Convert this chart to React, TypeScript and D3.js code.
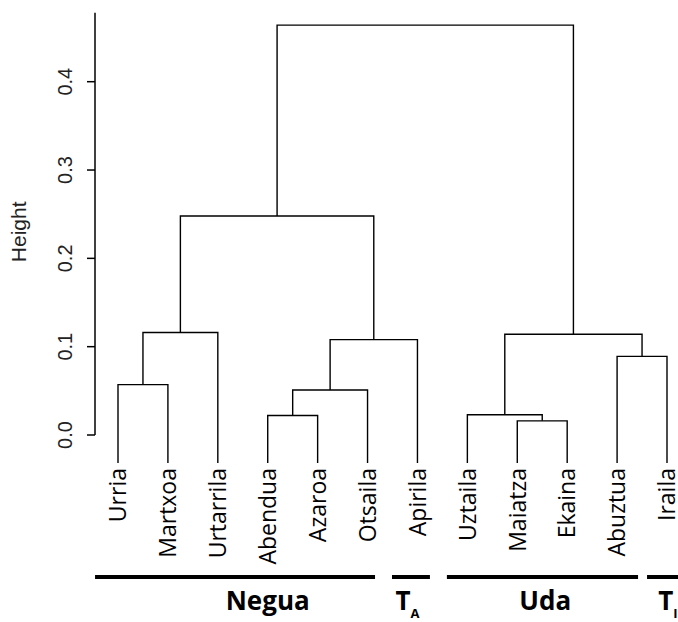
import React from 'react';
import * as d3 from 'd3';

const width = 678;
const height = 622;

// leaf order, left to right
const leaves = ['Urria', 'Martxoa', 'Urtarrila', 'Abendua', 'Azaroa', 'Otsaila',
  'Apirila', 'Uztaila', 'Maiatza', 'Ekaina', 'Abuztua', 'Iraila'];

// hclust style merges: negative = leaf (1-based), positive = earlier merge
const mergeLeft = [-9, -4, -8, 2, -1, -11, 4, 3, 5, 9, 10];
const mergeRight = [-10, -5, 1, -6, -2, -12, -7, 6, -3, 7, 8];
const mergeHeight = [0.016, 0.022, 0.023, 0.051, 0.057, 0.089, 0.108, 0.114, 0.116, 0.248, 0.464];

const yTicks = [0, 0.1, 0.2, 0.3, 0.4];

// season groups under the leaves, spans in leaf-index units
const groupNames = ['Negua', 'T', 'Uda', 'T'];
const groupSubs = ['', 'A', '', 'I'];
const groupStart = [-0.46, 5.49, 6.59, 10.6];
const groupEnd = [5.15, 6.25, 10.42, 11.8];
const groupLabelAt = [3.0, 5.8, 8.56, 11.02];

const x = d3.scaleLinear().domain([0, leaves.length - 1]).range([118, 667]);
const y = d3.scaleLinear().domain([0, 0.4]).range([435, 81.7]);
const leafBottom = y(0) + 28;

type Node = { x: number; y: number };

function buildTree() {
  const nodes: Node[] = [];
  const paths: string[] = [];
  const get = (id: number): Node =>
    id < 0 ? { x: x(-id - 1), y: leafBottom } : nodes[id - 1];
  mergeLeft.forEach((l, i) => {
    const a = get(l);
    const b = get(mergeRight[i]);
    const hy = y(mergeHeight[i]);
    const p = d3.path();
    p.moveTo(a.x, a.y);
    p.lineTo(a.x, hy);
    p.lineTo(b.x, hy);
    p.lineTo(b.x, b.y);
    paths.push(p.toString());
    nodes.push({ x: (a.x + b.x) / 2, y: hy });
  });
  return paths;
}

export default function App() {
  const paths = buildTree();
  const axisTop = y(0.478);
  return (
    <svg width={width} height={height} style={{ position: 'absolute', left: 0, top: 0, background: '#fff' }}>
      {/* y axis */}
      <g fontFamily="'Liberation Sans', Arial, sans-serif" fontSize={20} fill="#222">
        <line x1={95} x2={95} y1={axisTop} y2={y(0)} stroke="#000" strokeWidth={1.5} />
        {yTicks.map((t) => (
          <g key={t}>
            <line x1={87} x2={95} y1={y(t)} y2={y(t)} stroke="#000" strokeWidth={1.5} />
            <text transform={`translate(72,${y(t)}) rotate(-90)`} textAnchor="middle">
              {t.toFixed(1)}
            </text>
          </g>
        ))}
        <text transform={`translate(26,${y(0.23)}) rotate(-90)`} textAnchor="middle" fontSize={21}>
          Height
        </text>
      </g>

      {/* dendrogram */}
      <g fill="none" stroke="#000" strokeWidth={1.4}>
        {paths.map((d, i) => <path key={i} d={d} />)}
      </g>

      {/* leaf labels */}
      <g fontFamily="'Open Sans', 'Noto Sans', sans-serif" fontSize={23} fill="#000">
        {leaves.map((name, i) => (
          <text key={name} transform={`translate(${x(i)},${leafBottom + 5}) rotate(-90)`}
            textAnchor="end" dy="0.36em">
            {name}
          </text>
        ))}
      </g>

      {/* groups */}
      <g fontFamily="'Open Sans', 'Noto Sans', sans-serif" fontWeight="bold" fill="#000">
        {groupNames.map((g, i) => (
          <g key={i}>
            <line x1={x(groupStart[i])} x2={x(groupEnd[i])} y1={577} y2={577} stroke="#000" strokeWidth={4} />
            <text x={x(groupLabelAt[i])} y={610} textAnchor="middle" fontSize={26}>
              {g}
              {groupSubs[i] && <tspan fontSize={13} dy={8}>{groupSubs[i]}</tspan>}
            </text>
          </g>
        ))}
      </g>
    </svg>
  );
}
